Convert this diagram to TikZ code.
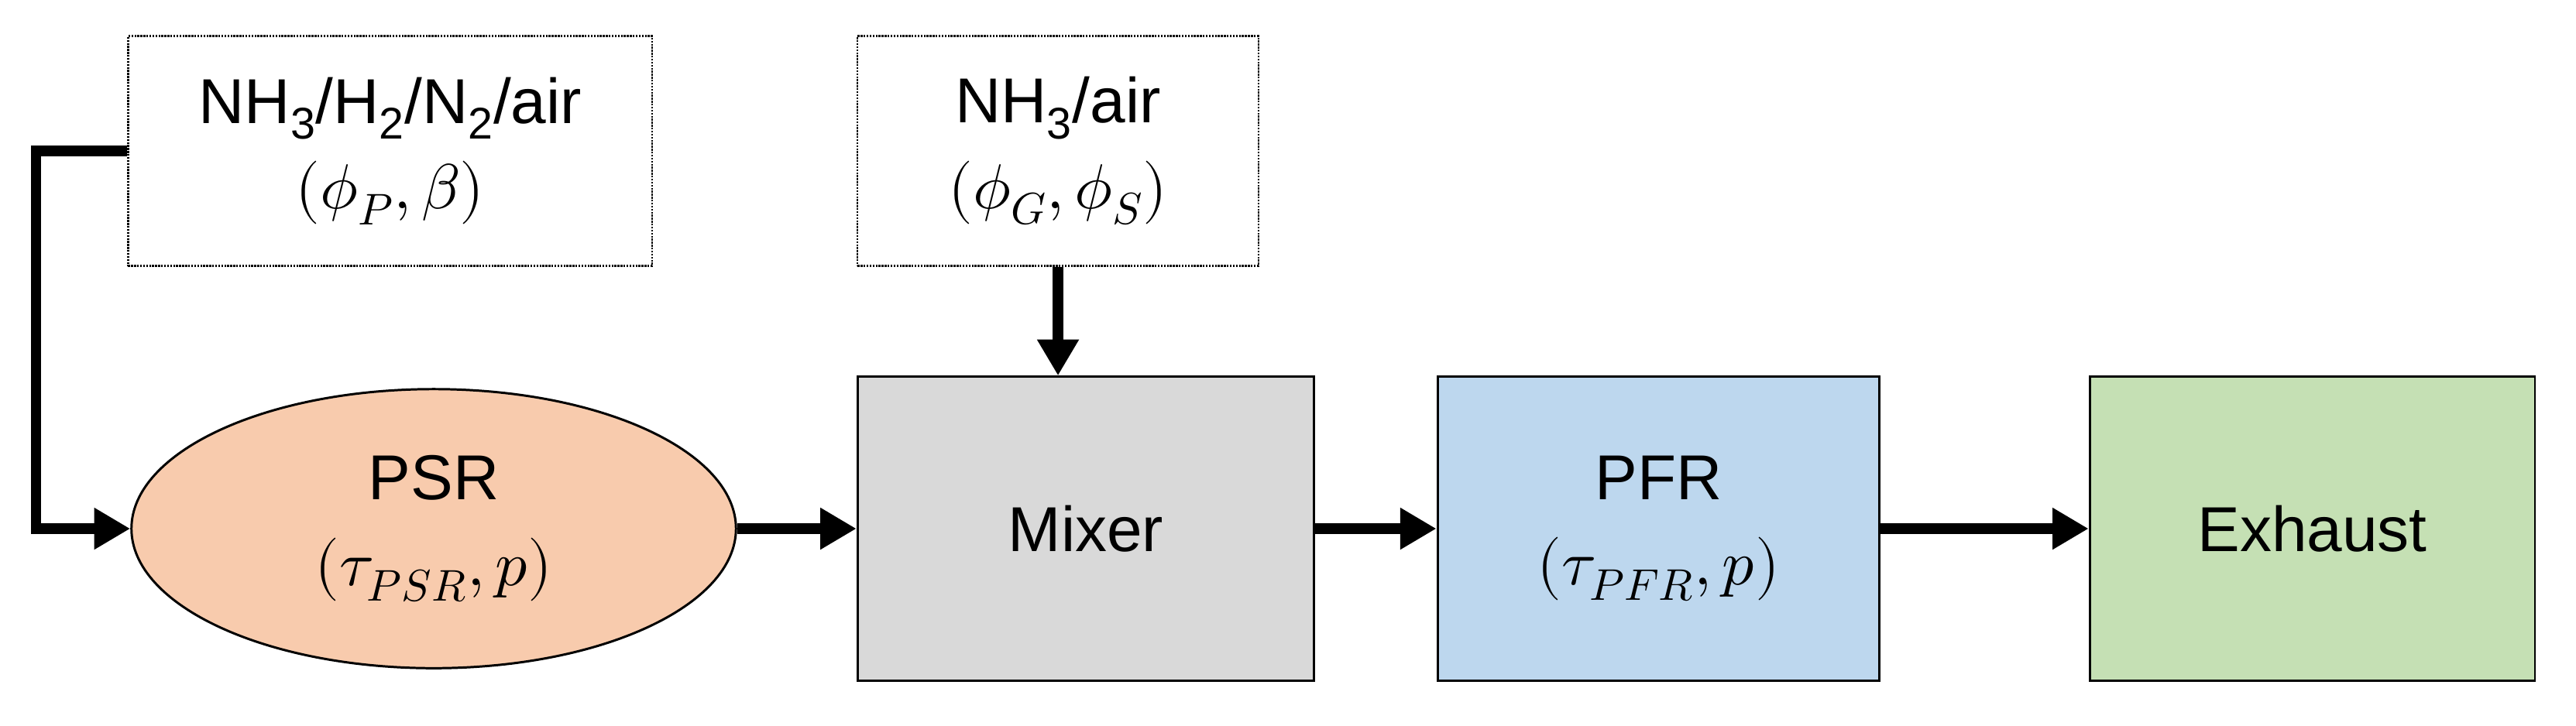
\documentclass[tikz,border=0pt]{standalone}
\usepackage{unicode-math}
\setmainfont{Liberation Sans}
\setmathfont{Latin Modern Math}
\usetikzlibrary{shapes.geometric,arrows.meta}
\tikzset{
  feed/.style={draw, densely dotted, line width=1.6pt, minimum width=15.95cm, minimum height=7cm, align=center},
  unit/.style={draw, line width=2pt, minimum width=13.9cm, minimum height=9.25cm, align=center},
  flow/.style={line width=9pt, -{Triangle[length=1.1cm,width=1.2cm]}},
}
\begin{document}
\begin{tikzpicture}[x=0.05cm, y=-0.05cm, font=\fontsize{55}{74}\selectfont]
    \useasboundingbox (0,0) rectangle (1568,442);
    % feeds
    \node[feed] (mix1) at (237.5,92) {NH\textsubscript{3}/H\textsubscript{2}/N\textsubscript{2}/air\\$(\phi_P,\beta)$};
    \node[feed, minimum width=12.2cm] (mix2) at (644,92) {NH\textsubscript{3}/air\\$(\phi_G,\phi_S)$};
    % reactors
    \node[ellipse, draw, line width=2pt, fill={rgb,255:red,248;green,203;blue,173}, minimum width=18.4cm, minimum height=8.5cm, inner sep=0pt, align=center] (psr) at (264,322) {PSR\\$(\tau_{PSR},p)$};
    \node[unit, fill={rgb,255:red,217;green,217;blue,217}] (mixer) at (661,322) {Mixer};
    \node[unit, minimum width=13.45cm, fill={rgb,255:red,189;green,215;blue,238}] (pfr) at (1009.5,322) {PFR\\$(\tau_{PFR},p)$};
    \node[unit, minimum width=13.55cm, fill={rgb,255:red,197;green,224;blue,180}] (exh) at (1407.5,322) {Exhaust};
    \coordinate (c1) at (22,92);
    % connectors
    \draw[flow] (mix1.west) -- (c1) |- (psr.west);
    \draw[flow] (mix2.south) -- (mixer.north -| mix2.south);
    \draw[flow] (psr) -- (mixer);
    \draw[flow] (mixer) -- (pfr);
    \draw[flow] (pfr) -- (exh);
\end{tikzpicture}
\end{document}
